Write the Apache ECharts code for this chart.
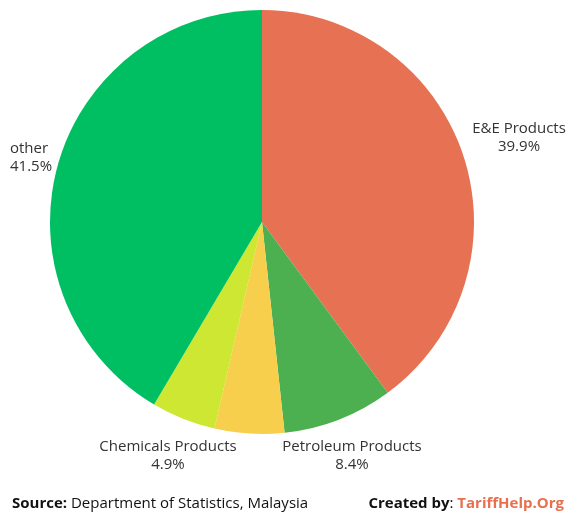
<!DOCTYPE html>
<html>
<head>
<meta charset="utf-8">
<script src="https://cdn.jsdelivr.net/npm/echarts@6/dist/echarts.min.js"></script>
<style>html,body{margin:0;background:#fff}#main{width:570px;height:518px}</style>
</head>
<body>
<div id="main"></div>
<script>
var categories = ['E&E Products', 'Petroleum Products', 'Machinery', 'Chemicals Products', 'other'];
var shares = [39.9, 8.4, 5.3, 4.9, 41.5];
var colors = ['#E67153', '#4CAF50', '#F7CF4C', '#CDE733', '#00BF63'];
var hiddenLabels = ['Machinery'];
// label anchor spots [x, y, align]
var labelSpots = [[519, 138, 'center'], [352, 456, 'center'], null, [168, 456, 'center'], [10, 158, 'left']];

var chart = echarts.init(document.getElementById('main'));
chart.setOption({
  animation: false,
  series: [{
    type: 'pie',
    center: [262, 222],
    radius: 212,
    startAngle: 90,
    clockwise: true,
    avoidLabelOverlap: false,
    labelLine: { show: false },
    label: {
      position: 'outside',
      color: '#333',
      fontSize: 15,
      fontFamily: 'Open Sans',
      lineHeight: 18,
      overflow: 'none',
      formatter: function (p) { return p.name + '\n' + p.value + '%'; }
    },
    labelLayout: function (p) {
      var s = labelSpots[p.dataIndex];
      if (!s) return {};
      return { x: s[0], y: s[1], align: s[2], verticalAlign: 'middle' };
    },
    data: categories.map(function (c, i) {
      return {
        name: c, value: shares[i],
        itemStyle: { color: colors[i] },
        label: { show: hiddenLabels.indexOf(c) < 0 }
      };
    })
  }],
  graphic: [{
    type: 'text', left: 12, top: 496,
    style: {
      text: '{b|Source:} Department of Statistics, Malaysia',
      rich: { b: { fontWeight: 'bold', fontSize: 15, fontFamily: 'Open Sans', fill: '#111' } },
      fontSize: 15, fontFamily: 'Open Sans', fill: '#111'
    }
  }, {
    type: 'text', right: 6, top: 496,
    style: {
      text: '{b|Created by}: {o|TariffHelp.Org}',
      rich: {
        b: { fontWeight: 'bold', fontSize: 15, fontFamily: 'Open Sans', fill: '#111' },
        o: { fontWeight: 'bold', fontSize: 15, fontFamily: 'Open Sans', fill: '#E8704F' }
      },
      fontSize: 15, fontFamily: 'Open Sans', fill: '#111'
    }
  }]
});
</script>
</body>
</html>
